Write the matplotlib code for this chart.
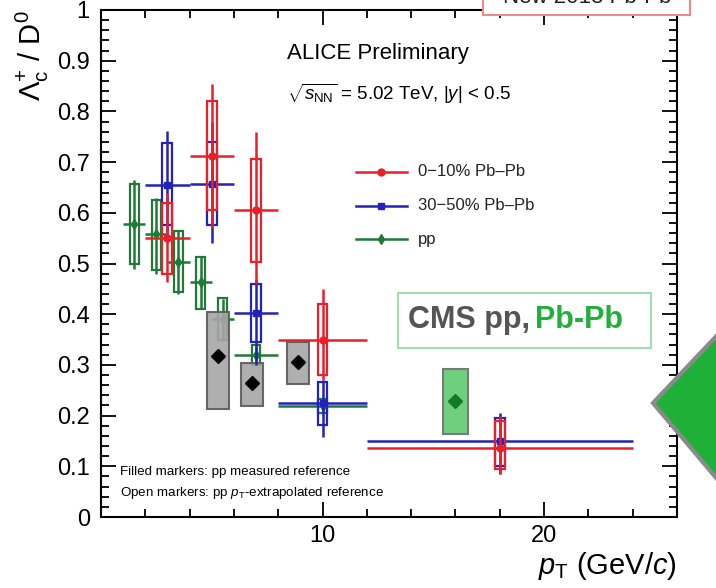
import numpy as np
import matplotlib
matplotlib.use("Agg")
import matplotlib.pyplot as plt
from matplotlib.patches import Rectangle, Polygon
from matplotlib.ticker import MultipleLocator, FuncFormatter

plt.rcParams['font.family'] = ['Liberation Sans', 'DejaVu Sans']
plt.rcParams['mathtext.fontset'] = 'custom'
plt.rcParams['mathtext.rm'] = 'Liberation Sans'
plt.rcParams['mathtext.it'] = 'Liberation Sans:italic'

# ALICE 0-10% Pb-Pb
red_x = [3, 5, 7, 10, 18]
red_xlo = [2, 4, 6, 8, 12]
red_xhi = [4, 6, 8, 12, 24]
red_y = [0.55, 0.713, 0.606, 0.35, 0.137]
red_stat_lo = [0.463, 0.57, 0.46, 0.27, 0.085]
red_stat_hi = [0.64, 0.855, 0.76, 0.45, 0.20]
red_sys_lo = [0.48, 0.606, 0.503, 0.28, 0.095]
red_sys_hi = [0.62, 0.82, 0.707, 0.42, 0.19]

# ALICE 30-50% Pb-Pb
blue_x = [3, 5, 7, 10, 18]
blue_xlo = [2, 4, 6, 8, 12]
blue_xhi = [4, 6, 8, 12, 24]
blue_y = [0.655, 0.657, 0.403, 0.224, 0.149]
blue_stat_lo = [0.55, 0.54, 0.30, 0.158, 0.085]
blue_stat_hi = [0.762, 0.78, 0.47, 0.27, 0.205]
blue_sys_lo = [0.575, 0.575, 0.345, 0.182, 0.10]
blue_sys_hi = [0.737, 0.74, 0.46, 0.267, 0.196]

# ALICE pp
pp_x = [1.5, 2.5, 3.5, 4.5, 5.5, 7, 10]
pp_xlo = [1, 2, 3, 4, 5, 6, 8]
pp_xhi = [2, 3, 4, 5, 6, 8, 12]
pp_y = [0.578, 0.558, 0.503, 0.463, 0.39, 0.32, 0.218]
pp_stat_lo = [0.49, 0.48, 0.44, 0.41, 0.35, 0.305, 0.21]
pp_stat_hi = [0.664, 0.63, 0.565, 0.515, 0.43, 0.335, 0.228]
pp_sys_lo = [0.499, 0.487, 0.443, 0.41, 0.35, 0.30, 0.205]
pp_sys_hi = [0.657, 0.626, 0.565, 0.513, 0.432, 0.34, 0.232]

# CMS pp and Pb-Pb
cms_pp_x = [5.3, 6.8, 8.9]
cms_pp_y = [0.317, 0.265, 0.305]
cms_pp_lo = [0.213, 0.218, 0.263]
cms_pp_hi = [0.405, 0.303, 0.345]
cms_pbpb_x = [16]
cms_pbpb_y = [0.228]
cms_pbpb_lo = [0.164]
cms_pbpb_hi = [0.291]

RED = '#e8202a'
BLUE = '#2323b8'
GREEN = '#1f7a35'

fig = plt.figure(figsize=(7.16, 5.88), dpi=100)
ax = fig.add_axes([0.141, 0.1207, 0.8045, 0.8623])


def draw_series(x, xlo, xhi, y, slo, shi, ylo, yhi, color, marker, ms, box_w, z):
    x = np.array(x, float)
    y = np.array(y, float)
    ax.bar(x, np.array(yhi) - np.array(ylo), bottom=ylo, width=box_w, fill=False,
           edgecolor=color, linewidth=1.6, zorder=z)
    ax.errorbar(x, y, xerr=[x - np.array(xlo), np.array(xhi) - x],
                yerr=[y - np.array(slo), np.array(shi) - y],
                fmt=marker, color=color, ms=ms, elinewidth=1.8, capsize=0, zorder=z + 0.1)


draw_series(pp_x, pp_xlo, pp_xhi, pp_y, pp_stat_lo, pp_stat_hi, pp_sys_lo, pp_sys_hi,
            GREEN, 'd', 5, 0.4, 1.5)

# CMS boxes
ax.bar(cms_pp_x, np.array(cms_pp_hi) - np.array(cms_pp_lo), bottom=cms_pp_lo, width=1.0,
       color='#a6a6a6', edgecolor='#5a5a5a', linewidth=1.5, alpha=0.9, zorder=2)
ax.plot(cms_pp_x, cms_pp_y, 'D', color='black', ms=7, zorder=2.2)
ax.bar(cms_pbpb_x, np.array(cms_pbpb_hi) - np.array(cms_pbpb_lo), bottom=cms_pbpb_lo, width=1.1,
       color='#6fcf7f', edgecolor='#7a7a7a', linewidth=1.5, zorder=2)
ax.plot(cms_pbpb_x, cms_pbpb_y, 'D', color='#137a2a', ms=7, zorder=2.2)

draw_series(blue_x, blue_xlo, blue_xhi, blue_y, blue_stat_lo, blue_stat_hi, blue_sys_lo, blue_sys_hi,
            BLUE, 's', 4.5, 0.45, 3)
draw_series(red_x, red_xlo, red_xhi, red_y, red_stat_lo, red_stat_hi, red_sys_lo, red_sys_hi,
            RED, 'o', 5, 0.45, 3.5)

ax.set_xlim(0, 26)
ax.set_ylim(0, 1)
ax.xaxis.set_major_locator(MultipleLocator(10))
ax.xaxis.set_minor_locator(MultipleLocator(2))
ax.xaxis.set_major_formatter(FuncFormatter(lambda v, p: '' if abs(v) < 1e-9 else f'{v:.0f}'))
ax.yaxis.set_major_locator(MultipleLocator(0.1))
ax.yaxis.set_minor_locator(MultipleLocator(0.02))
ax.yaxis.set_major_formatter(FuncFormatter(
    lambda v, p: '0' if abs(v) < 1e-9 else ('1' if abs(v - 1) < 1e-9 else f'{v:.1f}')))
ax.tick_params(which='both', direction='in', top=True, right=True, width=1.3, labelsize=17)
ax.tick_params(which='major', length=11)
ax.tick_params(which='minor', length=5.5)
ax.tick_params(axis='y', pad=8)
ax.tick_params(axis='x', pad=6)
for s in ax.spines.values():
    s.set_linewidth(1.5)

ax.set_ylabel(r'$\Lambda_{\mathrm{c}}^{+}$ / D$^{0}$', fontsize=21, loc='top', labelpad=4)
ax.set_xlabel(r'$p_{\mathrm{T}}$ (GeV/$c$)', fontsize=21, loc='right', labelpad=2)

ax.text(8.4, 0.915, 'ALICE Preliminary', fontsize=16, va='center', ha='left')
ax.text(8.4, 0.835, r'$\sqrt{s_{\mathrm{NN}}}$ = 5.02 TeV, |$y$| < 0.5', fontsize=13.5,
        va='center', ha='left')

# legend drawn by hand
leg_labels = ['0\u221210% Pb\u2013Pb', '30\u221250% Pb\u2013Pb', 'pp']
leg_colors = [RED, BLUE, GREEN]
leg_markers = ['o', 's', 'd']
leg_y = [0.681, 0.614, 0.548]
for lab, c, m, yy in zip(leg_labels, leg_colors, leg_markers, leg_y):
    ax.plot([11.5, 13.8], [yy, yy], color=c, lw=1.8)
    ax.plot([12.65], [yy], m, color=c, ms=5)
    ax.text(14.3, yy, lab, fontsize=12, va='center', ha='left', color='#222222')

ax.text(0.85, 0.088, 'Filled markers: pp measured reference', fontsize=9.6, va='center')
ax.text(0.85, 0.048, r'Open markers: pp $p_{\mathrm{T}}$-extrapolated reference', fontsize=9.6,
        va='center')

# CMS label box
fig.patches.append(Rectangle((0.556, 0.408), 0.353, 0.094, transform=fig.transFigure,
                             facecolor='white', edgecolor='#8fd89a', linewidth=1.2, zorder=5))
fig.text(0.570, 0.455, 'CMS pp,', fontsize=22, fontweight='bold', color='#555555',
         va='center', ha='left', zorder=6)
fig.text(0.747, 0.455, 'Pb-Pb', fontsize=22, fontweight='bold', color='#22b03c',
         va='center', ha='left', zorder=6)

# top banner (cut off, as in the reference)
fig.patches.append(Rectangle((0.675, 0.974), 0.289, 0.1, transform=fig.transFigure,
                             facecolor='white', edgecolor='#f08a8a', linewidth=1.5, zorder=5))
fig.text(0.82, 0.986, 'New 2018 Pb-Pb', fontsize=16, ha='center', va='bottom',
         color='#222222', zorder=6)

# green arrow at right edge
fig.patches.append(Polygon([(653 / 716, 1 - 403 / 588), (760 / 716, 1 - 290 / 588),
                            (760 / 716, 1 - 530 / 588)], closed=True, transform=fig.transFigure,
                           facecolor='#1fb03a', edgecolor='#8a8a8a', linewidth=3, zorder=5))

fig.savefig('out.png', dpi=100)
